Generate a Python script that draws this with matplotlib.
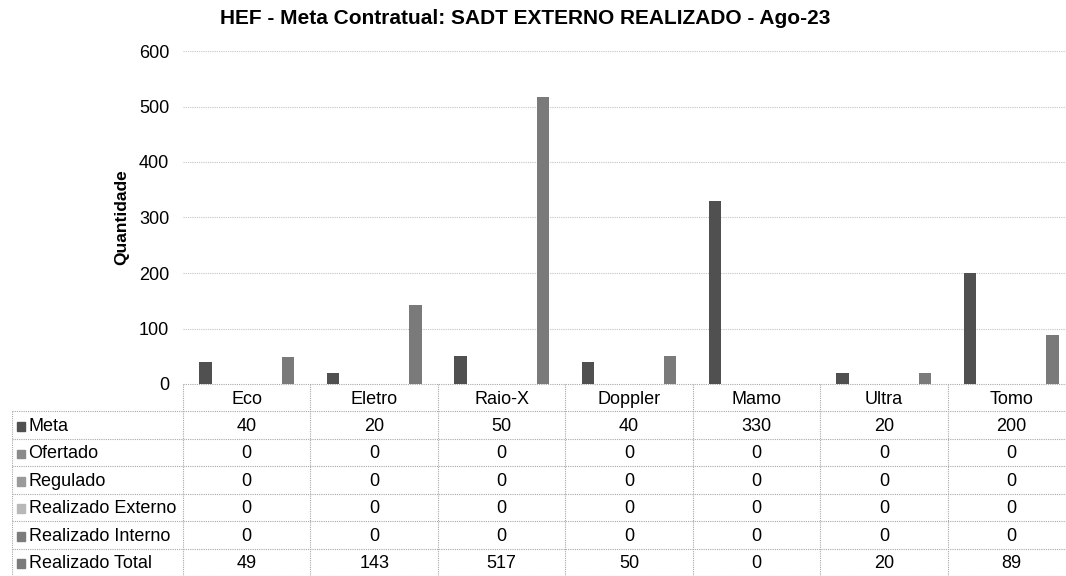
import numpy as np
import matplotlib
matplotlib.use("Agg")
import matplotlib.pyplot as plt

categories = ["Eco", "Eletro", "Raio-X", "Doppler", "Mamo", "Ultra", "Tomo"]
series_names = ["Meta", "Ofertado", "Regulado", "Realizado Externo",
                "Realizado Interno", "Realizado Total"]
meta = [40, 20, 50, 40, 330, 20, 200]
ofertado = [0, 0, 0, 0, 0, 0, 0]
regulado = [0, 0, 0, 0, 0, 0, 0]
real_externo = [0, 0, 0, 0, 0, 0, 0]
real_interno = [0, 0, 0, 0, 0, 0, 0]
real_total = [49, 143, 517, 50, 0, 20, 89]
yticks = [0, 100, 200, 300, 400, 500, 600]

series = [meta, ofertado, regulado, real_externo, real_interno, real_total]
colors = ["#505050", "#8a8a8a", "#9a9a9a", "#b8b8b8", "#7c7c7c", "#7a7a7a"]

plt.rcParams["font.family"] = ["Liberation Sans", "DejaVu Sans"]

W, H = 1066, 576
fig = plt.figure(figsize=(W / 100, H / 100), dpi=100)

# plot area, pixel coords from the reference
x0, x1 = 183, 1075
y0, ytop = 384, 51
ax = fig.add_axes([x0 / W, (H - y0) / H, (x1 - x0) / W, (y0 - ytop) / H])

x = np.arange(len(categories))
slot = 0.1295
bw = 0.098
for i, (vals, c) in enumerate(zip(series, colors)):
    ax.bar(x + (i - 2.5) * slot, vals, width=bw, color=c, zorder=3)

ax.set_xlim(-0.5, len(categories) - 0.5)
ax.set_ylim(0, 600)
ax.set_yticks(yticks)
ax.set_xticks([])
ax.tick_params(axis="y", length=0, labelsize=13, pad=10)
ax.yaxis.grid(True, color="#c4c4c4", linestyle=(0, (1, 1)), linewidth=0.8)
for s in ax.spines.values():
    s.set_visible(False)
ax.set_ylabel("Quantidade", fontsize=12.5, fontweight="bold", labelpad=7)

fig.text(525 / W, 1 - 18 / H, "HEF - Meta Contratual: SADT EXTERNO REALIZADO - Ago-23",
         ha="center", va="center", fontsize=15, fontweight="bold")

# data table below the chart
lbl_w = (x0 - 12) / ((x1 - x0) / len(categories))
tx = fig.add_axes([12 / W, 0, (x1 - 12) / W, (H - y0) / H])
tx.set_xlim(-0.5 - lbl_w, len(categories) - 0.5)
nrows = len(series) + 1
tx.set_ylim(nrows, 0)
tx.axis("off")

line_kw = dict(color="#a8a8a8", linestyle=(0, (1, 1)), linewidth=0.8)
left = -0.5 - lbl_w
right = len(categories) - 0.5
# horizontal lines
tx.plot([-0.5, right], [0, 0], **line_kw)
for r in range(1, nrows + 1):
    tx.plot([left, right], [r, r], **line_kw)
# vertical lines
tx.plot([left, left], [1, nrows], **line_kw)
for k in range(len(categories) + 1):
    tx.plot([k - 0.5, k - 0.5], [0, nrows], **line_kw)

for k, cat in enumerate(categories):
    tx.text(k, 0.55, cat, ha="center", va="center", fontsize=13)
for r, (name, vals, c) in enumerate(zip(series_names, series, colors)):
    yy = r + 1.55
    tx.add_patch(plt.Rectangle((left + 0.04, yy - 0.16), 0.065, 0.32,
                               color=c, transform=tx.transData))
    tx.text(left + 0.13, yy, name, ha="left", va="center", fontsize=13)
    for k, v in enumerate(vals):
        tx.text(k, yy, str(v), ha="center", va="center", fontsize=13)

fig.savefig("out.png", dpi=100)
